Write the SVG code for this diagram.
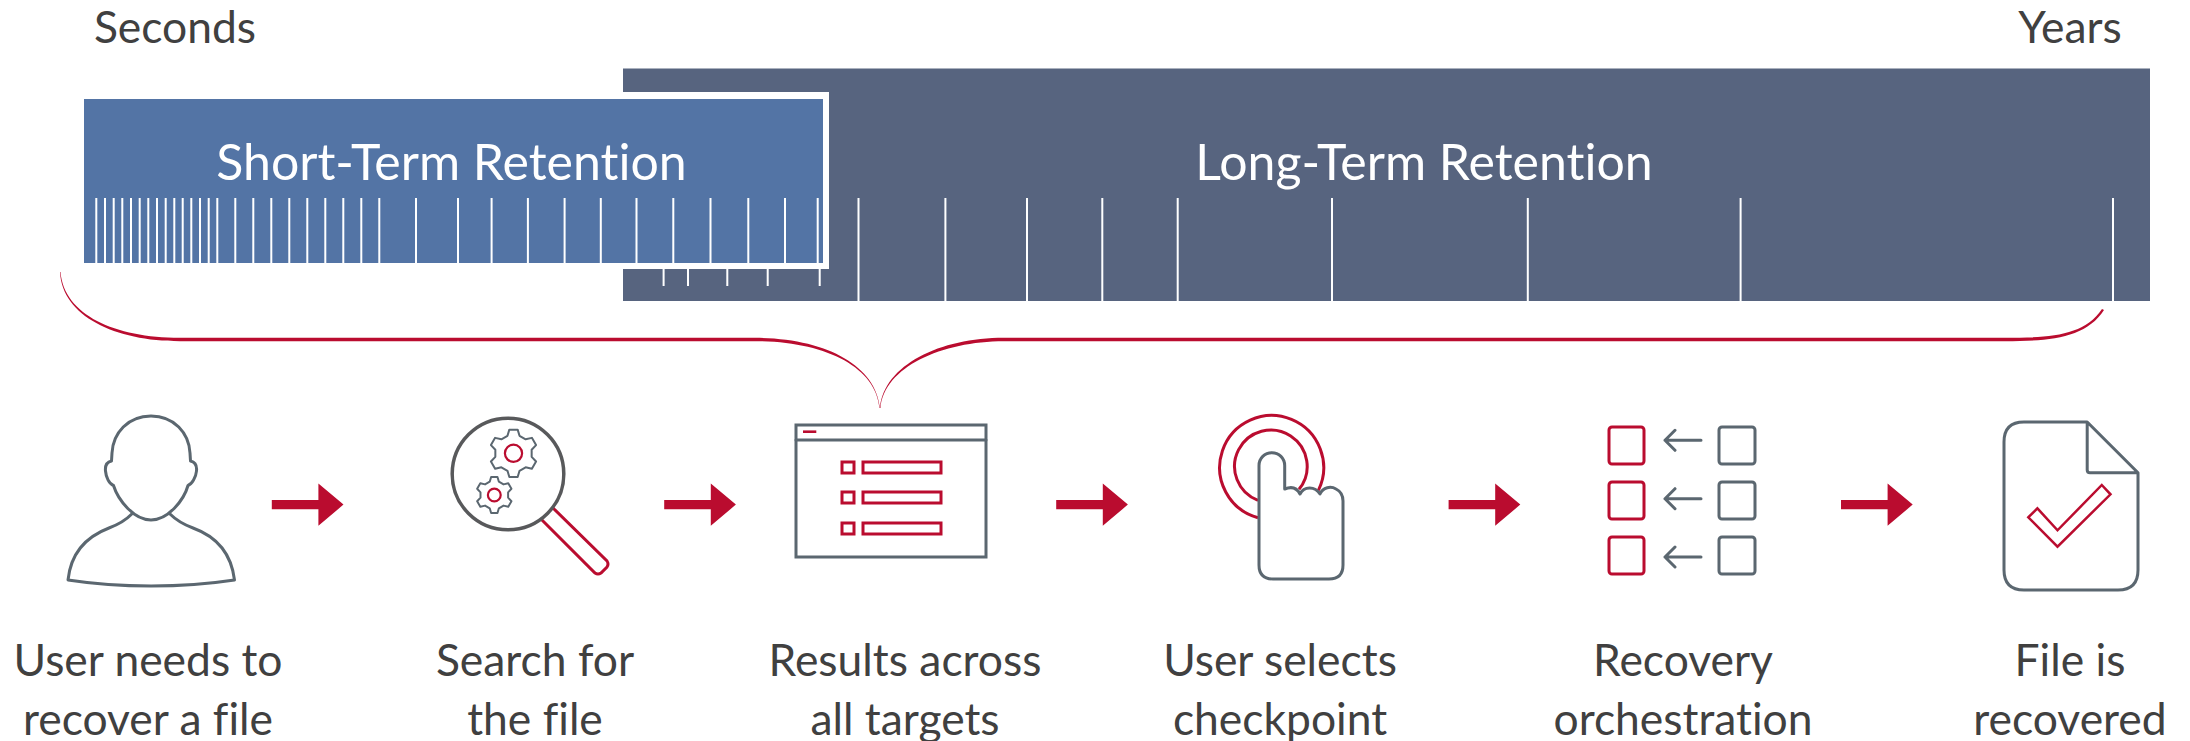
<svg xmlns="http://www.w3.org/2000/svg" width="2190" height="741" viewBox="0 0 2190 741">
<style>
text{font-family:"Lato","Carlito","Liberation Sans",sans-serif;font-size:44.4px;fill:#404040;text-anchor:middle;font-variant-ligatures:none}
.w{fill:#fff;font-size:50px}
.g{fill:none;stroke:#5B6770;stroke-width:3;stroke-linejoin:round;stroke-linecap:round}
.r{fill:none;stroke:#BA0C2F;stroke-width:3;stroke-linejoin:miter}
.t{stroke:#fff;stroke-width:2;fill:none}
.a{fill:#BA0C2F}
</style>
<defs>
<path id="arrow" d="M0,-4.7H46.6V-21.2L71.7,0 46.6,21.2V4.7H0Z"/>
<path id="gear" d="M-6.02,-17.49L-4.17,-23.64 4.17,-23.64 6.02,-17.49 12.14,-13.96 18.38,-15.43 22.56,-8.21 18.16,-3.54 18.16,3.54 22.56,8.21 18.38,15.43 12.14,13.96 6.02,17.49 4.17,23.64 -4.17,23.64 -6.02,17.49 -12.14,13.96 -18.38,15.43 -22.56,8.21 -18.16,3.54 -18.16,-3.54 -22.56,-8.21 -18.38,-15.43 -12.14,-13.96Z"/>
</defs>
<g id="scale-labels">
<text x="175" y="43">Seconds</text>
<text x="2070" y="43">Years</text>
</g>
<g id="long-term-retention">
<rect x="623" y="68.500" width="1527" height="232.500" fill="#57647F"/>
<path class="t" d="M858.5,198V301M945.4,198V301M1027,198V301M1102.3,198V301M1177.7,198V301M1332,198V301M1527.8,198V301M1740.6,198V301M2113,198V301"/>
<path class="t" d="M663.6,269V286M688,269V286M727.3,269V286M767.7,269V286M819.7,269V286"/>
<text class="w" x="1424" y="180">Long-Term Retention</text>
</g>
<g id="short-term-retention">
<path d="M623,92H829V269H623V262.7H84V99H623Z" fill="#fff"/>
<rect x="84" y="99" width="739" height="164" fill="#5374A5"/>
<path class="t" d="M96.3,198V263M105,198V263M113.7,198V263M122.3,198V263M131,198V263M139.7,198V263M148.3,198V263M157,198V263M165.7,198V263M174.3,198V263M182.7,198V263M191.3,198V263M200,198V263M208.7,198V263M217.3,198V263M235.3,198V263M253.3,198V263M271.3,198V263M289.3,198V263M307.3,198V263M325.3,198V263M343.3,198V263M361.3,198V263M379.3,198V263M416,198V263M458,198V263M491.6,198V263M527.9,198V263M564.6,198V263M600.8,198V263M636.5,198V263M673.3,198V263M710.5,198V263M748.3,198V263M785,198V263M817.7,198V263"/>
<text class="w" x="451.5" y="180">Short-Term Retention</text>
</g>
<g id="connectors">
<path d="M60.5,272C64,315 115,337.8 180,337.8H755C825,337.8 876,365 880,408 884,365 940,337.8 1004,337.8H2005C2050,337.8 2084,336 2102,309L2104,310C2086,338 2050,341.2 2005,341.2H1004C942,341.2 884,367 880.5,408H879.500C876,367 825,341.2 755,341.2H180C115,341.2 62,316 60,272Z" fill="#BA0C2F"/>
<use href="#arrow" class="a" x="271.8" y="504.6"/>
<use href="#arrow" class="a" x="664.2" y="504.6"/>
<use href="#arrow" class="a" x="1056.2" y="504.6"/>
<use href="#arrow" class="a" x="1448.6" y="504.6"/>
<use href="#arrow" class="a" x="1841" y="504.6"/>
</g>
<g id="node-user">
<g transform="translate(0 1)">
<path class="g" d="M151,415C128,415 113,432 112,452L111.5,460C107,461 105,465 105.5,470C106,476 109,483 113.5,484.500C118,499 134,519 151,519C168,519 184,499 188,484.500C192,483 196,476 196.500,470C197,465 195,461 190.500,460L190,452C189,432 174,415 151,415Z"/>
<path class="g" d="M131.800,513C124,521 117,524 109,527C88,535 71,550 68,579C120,587 182,587 234.500,579C231,550 215,535 193,527C185,524 178,521 170,513"/>
</g>
<text x="148" y="675.500">User needs to</text>
<text x="148" y="734.500">recover a file</text>
</g>
<g id="node-search">
<g transform="translate(0 1)">
<path class="r" d="M552.7,506.7L607,560Q609,563 607,566L601,572Q598,574 595,572L541.2,518.3"/>
<circle cx="508" cy="473" r="55.8" fill="#fff" stroke="#58595B" stroke-width="3.5"/>
<use href="#gear" x="513.5" y="452.3" class="g" style="stroke-width:2"/>
<circle cx="513.5" cy="452.3" r="8.6" fill="none" stroke="#BA0C2F" stroke-width="2.2"/>
<use href="#gear" transform="translate(494.3 494) scale(.76)" class="g" style="stroke-width:2.6"/>
<circle cx="494.3" cy="494" r="6.4" fill="none" stroke="#BA0C2F" stroke-width="2.2"/>
</g>
<text x="535" y="675.500">Search for</text>
<text x="535" y="734.500">the file</text>
</g>
<g id="node-results">
<g transform="translate(0 1)">
<rect class="g" x="796" y="424" width="190" height="132" style="stroke-linejoin:miter"/>
<path class="g" d="M796,439H986"/>
<path d="M803,430.7H816.3" stroke="#BA0C2F" stroke-width="2.6"/>
<rect class="r" x="842" y="461" width="12" height="11"/><rect class="r" x="863" y="461" width="78" height="11"/>
<rect class="r" x="842" y="491" width="12" height="11"/><rect class="r" x="863" y="491" width="78" height="11"/>
<rect class="r" x="842" y="522" width="12" height="11"/><rect class="r" x="863" y="522" width="78" height="11"/>
</g>
<text x="905" y="675.500">Results across</text>
<text x="905" y="734.500">all targets</text>
</g>
<g id="node-select">
<g transform="translate(0 1)">
<path class="r" d="M1258,516.7A52,52 0 1 1 1318.4,489.3"/>
<path class="r" d="M1258,499.3A36.3,36.3 0 1 1 1299,488.3"/>
<path class="g" d="M1259,464.5A12.85,12.85 0 0 1 1284.7,464.5V488C1292,485 1297,487 1300,493C1304,485 1315,485 1320,493C1323,486 1331,485 1336,488C1340,490 1343,494 1343,500V564Q1343,578 1329,578H1273Q1259,578 1259,564Z"/>
</g>
<text x="1280" y="675.500">User selects</text>
<text x="1280" y="734.500">checkpoint</text>
</g>
<g id="node-orchestration">
<g transform="translate(0 1)">
<rect class="r" x="1609" y="426" width="35" height="37" rx="3"/><rect class="r" x="1609" y="481" width="35" height="37" rx="3"/><rect class="r" x="1609" y="536" width="35" height="37" rx="3"/>
<path class="g" d="M1701,439.3H1665M1675,429.3L1665,439.3 1675,449.3M1701,497.7H1665M1675,487.7L1665,497.7 1675,507.7M1701,556H1665M1675,546L1665,556 1675,566"/>
<rect class="g" x="1719" y="426" width="36" height="37" rx="3"/><rect class="g" x="1719" y="481" width="36" height="37" rx="3"/><rect class="g" x="1719" y="536" width="36" height="37" rx="3"/>
</g>
<text x="1683" y="675.500">Recovery</text>
<text x="1683" y="734.500">orchestration</text>
</g>
<g id="node-file">
<g transform="translate(0 1)">
<path class="g" d="M2087.2,421H2024Q2004,421 2004,441V569Q2004,589 2024,589H2118Q2138,589 2138,569V471.7L2087.2,421V469Q2087.2,471.7 2090,471.7H2138"/>
<path class="r" style="stroke-width:2.5" d="M2101.8,484L2110.5,493.3 2057.5,545.7 2028.3,516.3 2037.4,507.3 2057.5,529.3Z"/>
</g>
<text x="2070" y="675.500">File is</text>
<text x="2070" y="734.500">recovered</text>
</g>
</svg>
